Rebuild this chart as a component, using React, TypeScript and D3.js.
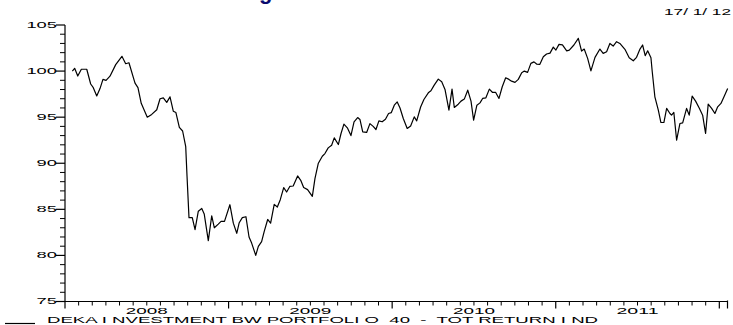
import React from 'react';
import * as d3 from 'd3';

const yearLabels = ['2008', '2009', '2010', '2011'];
const yTickValues = [75, 80, 85, 90, 95, 100, 105];
const seriesName = 'DEKA I NVESTMENT BW PORTFOLI O  40  -  TOT RETURN I ND';
const dateStamp = '17/ 1/ 12';
const titleFragment = 'g';

// decimal-year dates
const dates = [
  2008.045, 2008.059, 2008.078, 2008.100, 2008.133, 2008.157, 2008.173, 2008.194, 2008.214, 2008.232,
  2008.251, 2008.275, 2008.310, 2008.348, 2008.371, 2008.391, 2008.428, 2008.446, 2008.466, 2008.503,
  2008.530, 2008.561, 2008.581, 2008.601, 2008.622, 2008.642, 2008.662, 2008.678, 2008.699, 2008.719,
  2008.738, 2008.746, 2008.758, 2008.778, 2008.795, 2008.815, 2008.836, 2008.851, 2008.876, 2008.897,
  2008.913, 2008.937, 2008.954, 2008.975, 2009.008, 2009.029, 2009.050, 2009.065, 2009.084, 2009.106,
  2009.125, 2009.141, 2009.166, 2009.182, 2009.202, 2009.218, 2009.239, 2009.257, 2009.279, 2009.298,
  2009.316, 2009.337, 2009.355, 2009.375, 2009.395, 2009.422, 2009.441, 2009.459, 2009.483, 2009.512,
  2009.528, 2009.548, 2009.573, 2009.589, 2009.609, 2009.630, 2009.646, 2009.671, 2009.687, 2009.705,
  2009.726, 2009.748, 2009.767, 2009.789, 2009.803, 2009.820, 2009.844, 2009.864, 2009.884, 2009.901,
  2009.919, 2009.939, 2009.959, 2009.978, 2009.995, 2010.013, 2010.031, 2010.048, 2010.068, 2010.092,
  2010.113, 2010.135, 2010.150, 2010.174, 2010.194, 2010.221, 2010.237, 2010.257, 2010.282, 2010.303,
  2010.323, 2010.347, 2010.366, 2010.380, 2010.404, 2010.421, 2010.441, 2010.462, 2010.482, 2010.498,
  2010.518, 2010.537, 2010.553, 2010.573, 2010.594, 2010.614, 2010.633, 2010.653, 2010.673, 2010.694,
  2010.714, 2010.730, 2010.751, 2010.771, 2010.792, 2010.808, 2010.828, 2010.848, 2010.867, 2010.883,
  2010.903, 2010.924, 2010.944, 2010.965, 2010.985, 2011.001, 2011.020, 2011.041, 2011.067, 2011.083,
  2011.111, 2011.138, 2011.158, 2011.174, 2011.195, 2011.215, 2011.240, 2011.270, 2011.290, 2011.311,
  2011.331, 2011.351, 2011.372, 2011.392, 2011.423, 2011.449, 2011.474, 2011.494, 2011.515, 2011.531,
  2011.547, 2011.562, 2011.582, 2011.590, 2011.606, 2011.627, 2011.643, 2011.661, 2011.678, 2011.698,
  2011.708, 2011.722, 2011.739, 2011.759, 2011.776, 2011.800, 2011.816, 2011.834, 2011.855, 2011.877,
  2011.898, 2011.916, 2011.932, 2011.953, 2011.973, 2011.990, 2012.010, 2012.030, 2012.051,
];

const values = [
  100.0, 100.3, 99.46, 100.2, 100.2, 98.6, 98.2, 97.3, 98.1, 99.1,
  99.0, 99.45, 100.7, 101.6, 100.8, 100.9, 98.7, 98.2, 96.5, 95.0,
  95.3, 95.8, 97.0, 97.1, 96.6, 97.2, 95.65, 95.5, 93.9, 93.5,
  91.8, 88.6, 84.1, 84.1, 82.8, 84.8, 85.1, 84.5, 81.6, 84.3,
  83.0, 83.4, 83.7, 83.7, 85.5, 83.5, 82.4, 83.55, 84.1, 84.2,
  82.0, 81.34, 80.0, 80.98, 81.5, 82.6, 83.9, 83.5, 85.54, 85.25,
  86.05, 87.36, 86.88, 87.5, 87.53, 88.62, 88.15, 87.36, 87.14, 86.41,
  88.33, 89.97, 90.76, 91.05, 91.67, 91.96, 92.75, 92.03, 93.2, 94.24,
  93.84, 93.0, 94.5, 94.96, 94.75, 93.4, 93.34, 94.3, 94.0, 93.66,
  94.6, 94.5, 94.77, 95.4, 95.5, 96.3, 96.65, 96.0, 94.86, 93.77,
  94.05, 95.03, 94.6, 96.1, 96.92, 97.64, 97.86, 98.48, 99.13, 98.84,
  98.01, 95.76, 98.04, 96.05, 96.41, 96.74, 96.96, 97.93, 96.74, 94.67,
  96.3, 96.55, 97.03, 97.1, 98.04, 97.68, 97.68, 97.03, 98.3, 99.27,
  99.1, 98.91, 98.77, 99.1, 99.82, 100.0, 99.86, 100.84, 101.0, 100.76,
  100.73, 101.55, 101.85, 101.95, 102.6, 102.28, 102.9, 102.85, 102.2, 102.28,
  102.83, 103.55, 102.17, 102.39, 101.38, 100.03, 101.49, 102.39, 101.92, 102.1,
  103.0, 102.72, 103.19, 103.0, 102.36, 101.45, 101.12, 101.49, 102.39, 102.83,
  101.67, 102.2, 101.45, 99.93, 97.21, 95.76, 94.42, 94.42, 95.95, 95.4,
  95.22, 95.51, 92.5, 94.31, 94.38, 95.95, 95.22, 97.28, 96.74, 96.0,
  95.22, 93.23, 96.41, 95.95, 95.4, 96.12, 96.49, 97.28, 98.12,
];

const FONT = '"Liberation Sans", Arial, Helvetica, sans-serif';

export default function App() {
  const W = 733;
  const H = 325;
  const x = d3.scaleLinear().domain([2008, 2012.05]).range([65, 727.5]);
  const y = d3.scaleLinear().domain([75, 105]).range([301.5, 25]);
  const axisY = y(75);
  const axisX = x(2008);

  const line = d3
    .line<number>()
    .x((_, i) => x(dates[i]))
    .y((d) => y(d));

  const minorY = d3.range(75, 106, 1).filter((v) => v % 5 !== 0);
  const yearStarts = [2008, 2009, 2010, 2011, 2012];
  const monthTicks: number[] = [];
  for (let yr = 2008; yr <= 2012; yr++) {
    for (let m = 1; m < 12; m++) {
      const t = yr + m / 12;
      if (t < 2012.05) monthTicks.push(t);
    }
  }

  return (
    <svg
      width={W}
      height={H}
      style={{ position: 'absolute', left: 0, top: 0, background: '#fff' }}
      fontFamily={FONT}
    >
      <rect x={0} y={0} width={W} height={H} fill="#fff" />
      {/* cut-off title descender */}
      <text x={259} y={-1} fontSize={22} fontWeight="bold" fill="#0a0a6e">
        {titleFragment}
      </text>
      {/* date stamp */}
      <text
        x={664}
        y={15}
        fontSize={9.5}
        fill="#000"
        textLength={67}
        lengthAdjust="spacingAndGlyphs"
        style={{ whiteSpace: 'pre' }}
      >
        {dateStamp}
      </text>

      {/* y axis */}
      <line x1={axisX} x2={axisX} y1={y(105)} y2={axisY} stroke="#000" strokeWidth={1.2} />
      {minorY.map((v) => (
        <line key={'my' + v} x1={axisX - 5} x2={axisX} y1={y(v)} y2={y(v)} stroke="#000" strokeWidth={1} />
      ))}
      {yTickValues.map((v) => {
        const label = String(v);
        const w = label.length * 10.2;
        return (
          <g key={'y' + v}>
            <line x1={axisX - 9} x2={axisX} y1={y(v)} y2={y(v)} stroke="#000" strokeWidth={1.2} />
            <text
              x={57 - w}
              y={y(v) + 2.8}
              fontSize={9.5}
              fill="#000"
              textLength={w}
              lengthAdjust="spacingAndGlyphs"
            >
              {label}
            </text>
          </g>
        );
      })}

      {/* x axis */}
      <line x1={axisX} x2={x(2012.05)} y1={axisY} y2={axisY} stroke="#000" strokeWidth={1.2} />
      {monthTicks.map((t) => (
        <line key={'mx' + t} x1={x(t)} x2={x(t)} y1={axisY} y2={axisY + 4} stroke="#000" strokeWidth={1} />
      ))}
      {yearStarts.map((t) => (
        <line key={'yx' + t} x1={x(t)} x2={x(t)} y1={axisY} y2={axisY + 7} stroke="#000" strokeWidth={1.2} />
      ))}
      <line x1={x(2012.05)} x2={x(2012.05)} y1={axisY - 1} y2={axisY + 7} stroke="#000" strokeWidth={1.2} />
      {yearLabels.map((lab) => {
        const cx = x(+lab + 0.5);
        return (
          <text
            key={'yl' + lab}
            x={cx - 21}
            y={313.6}
            fontSize={9}
            fill="#000"
            textLength={42}
            lengthAdjust="spacingAndGlyphs"
          >
            {lab}
          </text>
        );
      })}

      {/* series */}
      <path d={line(values) || ''} fill="none" stroke="#000" strokeWidth={1.2} strokeLinejoin="round" />

      {/* legend */}
      <line x1={5} x2={35} y1={323.5} y2={323.5} stroke="#000" strokeWidth={1.2} />
      <text
        x={47}
        y={322.8}
        fontSize={9}
        fill="#000"
        textLength={551}
        lengthAdjust="spacingAndGlyphs"
        style={{ whiteSpace: 'pre' }}
      >
        {seriesName}
      </text>
    </svg>
  );
}
